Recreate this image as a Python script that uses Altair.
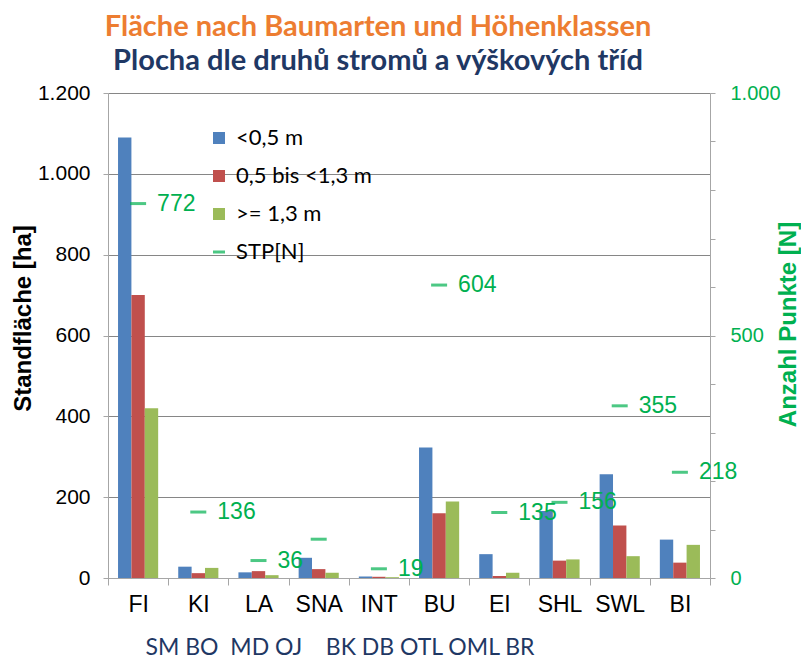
import altair as alt
import pandas as pd

categories = ["FI", "KI", "LA", "SNA", "INT", "BU", "EI", "SHL", "SWL", "BI"]
classes = ["<0,5 m", "0,5 bis <1,3 m", ">= 1,3 m"]
class_colors = ["#4F81BD", "#C0504D", "#9BBB59"]
area_lt05 = [1090, 28, 14, 50, 4, 323, 59, 166, 257, 95]
area_05_13 = [700, 12, 17, 22, 3, 160, 5, 43, 130, 38]
area_ge13 = [420, 25, 7, 13, 2, 189, 13, 46, 54, 82]
stp_n = [772, 136, 36, 80, 19, 604, 135, 156, 355, 218]
stp_text = ["772", "136", "36", "", "19", "604", "135", "156", "355", "218"]
left_ticks = [0, 200, 400, 600, 800, 1000, 1200]
right_ticks = [0, 100, 200, 300, 400, 500, 600, 700, 800, 900, 1000]
czech_codes = "SM BO\u00a0\u00a0MD OJ\u00a0\u00a0\u00a0\u00a0BK DB OTL OML BR"

rows = []
for i, c in enumerate(categories):
    for cls, vals in zip(classes, [area_lt05, area_05_13, area_ge13]):
        rows.append({"cat": c, "cls": cls, "ha": vals[i]})
bars_df = pd.DataFrame(rows)
stp_df = pd.DataFrame({"cat": categories, "n": stp_n, "label": stp_text,
                       "series": ["STP[N]"] * len(categories)})

GREEN = "#00B050"
AXIS_GREY = "#A6A6A6"

x_enc = alt.X(
    "cat:N", sort=categories,
    scale=alt.Scale(paddingInner=0, paddingOuter=0),
    axis=alt.Axis(
        tickBand="extent", labelFont="Liberation Sans", labelFontSize=23,
        labelColor="#000000", labelAngle=0, tickSize=7, labelPadding=8,
        domainColor=AXIS_GREY, tickColor=AXIS_GREY,
        title=czech_codes, titleFont="Lato", titleFontSize=23,
        titleFontWeight="normal", titleColor="#1F3864",
        titleX=37, titleY=76, titleAlign="left", titleBaseline="alphabetic",
    ),
)

bars = alt.Chart(bars_df).mark_bar().encode(
    x=x_enc,
    xOffset=alt.XOffset("cls:N", sort=classes,
                        scale=alt.Scale(paddingInner=0, paddingOuter=0.75)),
    y=alt.Y(
        "ha:Q", scale=alt.Scale(domain=[0, 1200], nice=False),
        axis=alt.Axis(
            values=left_ticks,
            labelExpr="replace(format(datum.value, ','), ',', '.')",
            labelFont="Liberation Sans", labelFontSize=21, labelColor="#000000",
            tickSize=5, labelPadding=13, domainColor=AXIS_GREY, tickColor=AXIS_GREY,
            grid=True, gridColor="#868686",
            title="Standfläche [ha]", titleFont="Liberation Sans", titleFontSize=24,
            titleFontWeight="bold", titleColor="#000000", titlePadding=2, titleY=225,
        ),
    ),
    color=alt.Color(
        "cls:N", sort=classes,
        scale=alt.Scale(domain=classes, range=class_colors),
        legend=alt.Legend(
            title=None, orient="none", legendX=100, legendY=34,
            symbolType="square", symbolSize=144, symbolStrokeWidth=0,
            labelFont="Lato", labelFontSize=22, labelColor="#000000",
            rowPadding=16, labelOffset=6,
        ),
    ),
)

y_right = alt.Y(
    "n:Q", scale=alt.Scale(domain=[0, 1000], nice=False),
    axis=alt.Axis(
        orient="right", values=right_ticks,
        labelExpr="datum.value % 500 == 0 ? replace(format(datum.value, ','), ',', '.') : ''",
        labelFont="Liberation Sans", labelFontSize=20, labelColor=GREEN,
        tickSize=5, labelPadding=15, domainColor=AXIS_GREY, tickColor=AXIS_GREY,
        grid=False,
        title="Anzahl Punkte [N]", titleFont="Liberation Sans", titleFontSize=24,
        titleFontWeight="bold", titleColor=GREEN, titlePadding=20, titleAngle=270,
        titleY=231,
    ),
)

ticks = alt.Chart(stp_df).mark_tick(size=16, thickness=3).encode(
    x=alt.X("cat:N", sort=categories),
    y=y_right,
    color=alt.Color(
        "series:N",
        scale=alt.Scale(domain=["STP[N]"], range=[GREEN]),
        legend=alt.Legend(
            title=None, orient="none", legendX=100, legendY=148,
            symbolType="stroke", symbolSize=144, symbolStrokeWidth=3,
            symbolStrokeColor=GREEN,
            labelFont="Lato", labelFontSize=22, labelColor="#000000",
            labelOffset=6,
        ),
    ),
)

labels = alt.Chart(stp_df).mark_text(
    align="left", baseline="middle", dx=19, font="Liberation Sans",
    fontSize=23, color=GREEN,
).encode(
    x=alt.X("cat:N", sort=categories),
    y=alt.Y("n:Q", scale=alt.Scale(domain=[0, 1000], nice=False)),
    text="label:N",
)

right_layer = alt.layer(ticks, labels)

chart = alt.layer(bars, right_layer).resolve_scale(
    y="independent", color="independent"
).properties(
    width=602, height=485,
    padding={"left": 100, "top": 85, "right": 91, "bottom": 80},
    autosize=alt.AutoSizeParams(type="none"),
    title=alt.TitleParams(
        text="Fläche nach Baumarten und Höhenklassen",
        subtitle="Plocha dle druhů stromů a výškových tříd",
        font="Lato", fontSize=29, fontWeight="bold", color="#ED7D31",
        subtitleFont="Lato", subtitleFontSize=29, subtitleFontWeight="bold",
        subtitleColor="#1F3864", subtitlePadding=5,
        anchor="middle", dx=-31, offset=6,
    ),
).configure_view(stroke=None)

chart.save("out.html", embed_options={"renderer": "svg", "actions": False})
